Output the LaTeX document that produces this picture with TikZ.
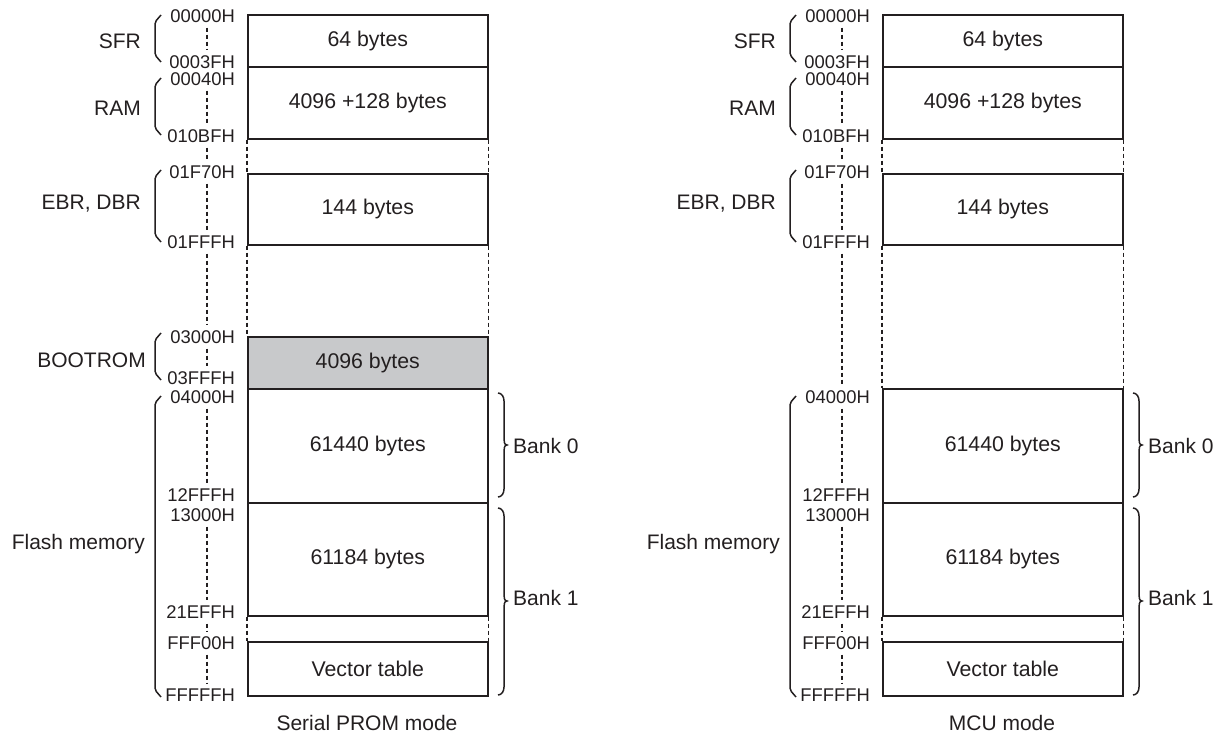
\documentclass[tikz,border=0pt]{standalone}
\usepackage{fontspec}
\setmainfont{Liberation Sans}
\definecolor{ink}{HTML}{231F20}
\definecolor{romgray}{HTML}{C8C9CB}
\tikzset{
  membox/.style={draw=ink, line width=1.6pt, minimum width=240pt, anchor=north west, inner sep=0pt, font=\fontsize{21.3}{25}\selectfont, text=ink},
  addr/.style={anchor=east, inner sep=0pt, font=\fontsize{18.4}{21}\selectfont, text=ink},
  region/.style={anchor=east, inner sep=0pt, font=\fontsize{21}{25}\selectfont, text=ink},
  banklbl/.style={anchor=west, inner sep=0pt, font=\fontsize{21}{25}\selectfont, text=ink},
  modelbl/.style={inner sep=0pt, font=\fontsize{21}{25}\selectfont, text=ink},
  adots/.style={draw=ink, line width=1.5pt, dash pattern=on 4pt off 3pt, shorten <=5pt, shorten >=5pt},
  edots/.style={draw=ink, line width=1.5pt, dash pattern=on 4pt off 3pt},
  brk/.style={draw=ink, line width=1.5pt, rounded corners=2pt},
  cbrk/.style={draw=ink, line width=1.5pt},
}
% common part of a panel: #1 = name prefix
\newcommand{\mempanel}[1]{%
  \coordinate (#1ax) at (207,0);
  \node[membox, minimum height=52pt] (#1sfr) at (247,14) {64 bytes};
  \node[membox, minimum height=72pt] (#1ram) at (247,66) {4096 +128 bytes};
  \node[membox, minimum height=71pt] (#1ebr) at (247,173) {144 bytes};
  \node[membox, minimum height=114pt] (#1bk0) at (247,388) {61440 bytes};
  \node[membox, minimum height=113pt] (#1bk1) at (247,502) {61184 bytes};
  \node[membox, minimum height=54pt] (#1vec) at (247,641) {Vector table};
  % address labels
  \node[addr] (#1a0) at (235,16) {00000H};
  \node[addr] (#1a1) at (235,62) {0003FH};
  \node[addr] (#1a2) at (235,79) {00040H};
  \node[addr] (#1a3) at (235,136) {010BFH};
  \node[addr] (#1a4) at (235,172) {01F70H};
  \node[addr] (#1a5) at (235,242) {01FFFH};
  \node[addr] (#1a8) at (235,397) {04000H};
  \node[addr] (#1a9) at (235,495) {12FFFH};
  \node[addr] (#1a10) at (235,515) {13000H};
  \node[addr] (#1a11) at (235,612) {21EFFH};
  \node[addr] (#1a12) at (235,643) {FFF00H};
  \node[addr] (#1a13) at (235,695) {FFFFFH};
  % address dotted line
  \draw[adots] (#1ax |- #1a0.south) -- (#1ax |- #1a1.north);
  \draw[adots] (#1ax |- #1a2.south) -- (#1ax |- #1a3.north);
  \draw[adots] (#1ax |- #1a3.south) -- (#1ax |- #1a4.north);
  \draw[adots] (#1ax |- #1a4.south) -- (#1ax |- #1a5.north);
  \draw[adots] (#1ax |- #1a8.south) -- (#1ax |- #1a9.north);
  \draw[adots] (#1ax |- #1a10.south) -- (#1ax |- #1a11.north);
  \draw[adots] (#1ax |- #1a11.south) -- (#1ax |- #1a12.north);
  \draw[adots] (#1ax |- #1a12.south) -- (#1ax |- #1a13.north);
  % dotted box edges in gaps
  \draw[edots] (#1ram.south west) -- (#1ebr.north west);
  \draw[edots] (#1ram.south east) -- (#1ebr.north east);
  \draw[edots] (#1bk1.south west) -- (#1vec.north west);
  \draw[edots] (#1bk1.south east) -- (#1vec.north east);
  % region labels and brackets
  \node[region] (#1lsfr) at (141,41) {SFR};
  \node[region] (#1lram) at (141,108) {RAM};
  \node[region] (#1lebr) at (141,204) {EBR, DBR};
  \node[region] (#1lfl) at (145,544) {Flash memory};
  \draw[brk] (161,15) -- (155,22) -- (155,55) -- (161,62);
  \draw[brk] (161,78) -- (155,85) -- (155,128) -- (161,135);
  \draw[brk] (161,170) -- (155,177) -- (155,235) -- (161,242);
  \draw[brk] (161,396) -- (155,403) -- (155,690) -- (161,697);
  % bank braces
  \draw[cbrk] (498,393) to[out=0,in=90] (504,401) -- (504,438) to[out=-90,in=180] (507,445) to[out=180,in=90] (504,452) -- (504,489) to[out=-90,in=0] (498,497);
  \draw[cbrk] (498,508) to[out=0,in=90] (504,516) -- (504,594) to[out=-90,in=180] (507,601) to[out=180,in=90] (504,608) -- (504,687) to[out=-90,in=0] (498,695);
  \node[banklbl] (#1b0) at (513,446) {Bank 0};
  \node[banklbl] (#1b1) at (513,598) {Bank 1};
}
\begin{document}
\begin{tikzpicture}[x=1pt,y=-1pt]
  \useasboundingbox (0,0) rectangle (1222,743);
  % ---- left panel: Serial PROM mode ----
  \mempanel{L}
  \node[membox, minimum height=52pt, fill=romgray] (Lrom) at (247,336) {4096 bytes};
  \node[addr] (La6) at (235,337) {03000H};
  \node[addr] (La7) at (235,378) {03FFFH};
  \draw[adots] (Lax |- La5.south) -- (Lax |- La6.north);
  \draw[adots] (Lax |- La6.south) -- (Lax |- La7.north);
  \draw[edots] (Lebr.south west) -- (Lrom.north west);
  \draw[edots] (Lebr.south east) -- (Lrom.north east);
  \node[region] (Llrom) at (146,360) {BOOTROM};
  \draw[brk] (161,333) -- (155,340) -- (155,373) -- (161,380);
  \node[modelbl] (Lmode) at (367,723) {Serial PROM mode};
  % ---- right panel: MCU mode ----
  \begin{scope}[xshift=635pt]
    \mempanel{R}
    \draw[adots] (Rax |- Ra5.south) -- (Rax |- Ra8.north);
    \draw[edots] (Rebr.south west) -- (Rbk0.north west);
    \draw[edots] (Rebr.south east) -- (Rbk0.north east);
    \node[modelbl] (Rmode) at (367,723) {MCU mode};
  \end{scope}
\end{tikzpicture}
\end{document}
